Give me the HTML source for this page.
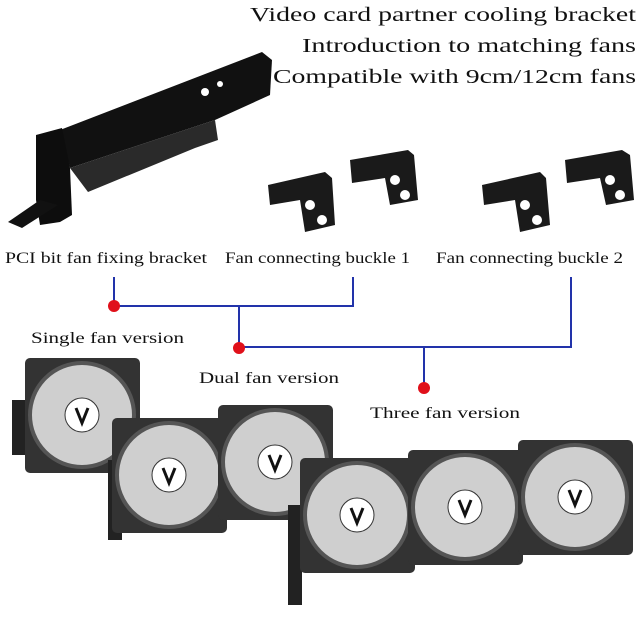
<!DOCTYPE html>
<html><head><style>
body{margin:0;background:#fff;}
svg{display:block;}
text{font-family:"Liberation Serif",serif;fill:#111;}
</style></head><body>
<svg width="640" height="618" viewBox="0 0 640 618">
<rect width="640" height="618" fill="#fff"/>
<g font-size="20">
<text x="250" y="21" textLength="386" lengthAdjust="spacingAndGlyphs">Video card partner cooling bracket</text>
<text x="302" y="52" textLength="334" lengthAdjust="spacingAndGlyphs">Introduction to matching fans</text>
<text x="273" y="83" textLength="363" lengthAdjust="spacingAndGlyphs">Compatible with 9cm/12cm fans</text>
</g>
<!-- PCI bracket -->
<polygon points="60,130 262,52 272,60 270,95 215,120 70,168" fill="#111"/>
<polygon points="70,168 215,120 218,140 195,148 88,192" fill="#2a2a2a"/>
<polygon points="36,135 62,128 70,168 72,215 60,222 40,225 36,200" fill="#0d0d0d"/>
<polygon points="40,200 58,205 22,228 8,222" fill="#111"/>
<circle cx="205" cy="92" r="4" fill="#fff"/><circle cx="220" cy="84" r="3" fill="#fff"/>
<!-- buckles -->
<g fill="#1a1a1a">
<polygon points="268,185 325,172 332,178 335,225 305,232 300,200 270,205"/>
<polygon points="350,160 408,150 414,155 418,200 390,205 385,178 352,183"/>
<polygon points="482,185 540,172 546,178 550,225 520,232 515,200 484,205"/>
<polygon points="565,160 622,150 630,155 634,200 606,205 600,178 567,183"/>
</g>
<g fill="#fff">
<circle cx="310" cy="205" r="5"/><circle cx="322" cy="220" r="5"/>
<circle cx="395" cy="180" r="5"/><circle cx="405" cy="195" r="5"/>
<circle cx="525" cy="205" r="5"/><circle cx="537" cy="220" r="5"/>
<circle cx="610" cy="180" r="5"/><circle cx="620" cy="195" r="5"/>
</g>
<g font-size="16">
<text x="5" y="263" textLength="202" lengthAdjust="spacingAndGlyphs">PCI bit fan fixing bracket</text>
<text x="225" y="263" textLength="185" lengthAdjust="spacingAndGlyphs">Fan connecting buckle 1</text>
<text x="436" y="263" textLength="187" lengthAdjust="spacingAndGlyphs">Fan connecting buckle 2</text>
<text x="31" y="343" textLength="153" lengthAdjust="spacingAndGlyphs">Single fan version</text>
<text x="199" y="383" textLength="140" lengthAdjust="spacingAndGlyphs">Dual fan version</text>
<text x="370" y="418" textLength="150" lengthAdjust="spacingAndGlyphs">Three fan version</text>
</g>
<g stroke="#2233aa" stroke-width="2" fill="none">
<polyline points="114,277 114,306 353,306 353,277"/>
<polyline points="239,306 239,347 571,347 571,277"/>
<line x1="424" y1="347" x2="424" y2="388"/>
</g>
<g fill="#e0101a">
<circle cx="114" cy="306" r="6"/><circle cx="239" cy="348" r="6"/><circle cx="424" cy="388" r="6"/>
</g>
<defs>
<g id="fan">
<rect x="0" y="0" width="115" height="115" rx="5" fill="#333"/>
<circle cx="57" cy="57" r="52" fill="#cfcfcf"/>
<circle cx="57" cy="57" r="52" fill="none" stroke="#555" stroke-width="4"/>
<circle cx="57" cy="57" r="17" fill="#fff" stroke="#333"/>
<path d="M51 50 L57 65 L63 50" stroke="#111" stroke-width="3" fill="none"/>
</g>
</defs>
<rect x="12" y="400" width="14" height="55" fill="#222"/>
<use href="#fan" x="25" y="358"/>
<rect x="108" y="460" width="14" height="80" fill="#222"/>
<use href="#fan" x="112" y="418"/>
<use href="#fan" x="218" y="405"/>
<rect x="288" y="505" width="14" height="100" fill="#222"/>
<use href="#fan" x="300" y="458"/>
<use href="#fan" x="408" y="450"/>
<use href="#fan" x="518" y="440"/>
</svg>
</body></html>
